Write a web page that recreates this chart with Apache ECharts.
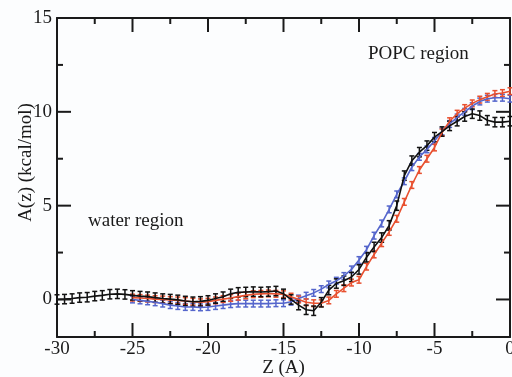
<!DOCTYPE html>
<html>
<head>
<meta charset="utf-8">
<script src="https://cdn.jsdelivr.net/npm/echarts@6/dist/echarts.min.js"></script>
<style>
  html, body {margin: 0; padding: 0; background: #fcfdfe;}
  #chart {width: 512px; height: 377px;}
</style>
</head>
<body>
<div id="chart"></div>
<script>
// Z positions (A)
const zBlack = [-30, -29.5, -29, -28.5, -28, -27.5, -27, -26.5, -26, -25.5,
  -25, -24.5, -24, -23.5, -23, -22.5, -22, -21.5, -21, -20.5,
  -20, -19.5, -19, -18.5, -18, -17.5, -17, -16.5, -16, -15.5,
  -15, -14.5, -14, -13.5, -13, -12.5, -12, -11.5, -11, -10.5,
  -10, -9.5, -9, -8.5, -8, -7.5, -7, -6.5, -6, -5.5,
  -5, -4.5, -4, -3.5, -3, -2.5, -2, -1.5, -1, -0.5, 0];
const aBlack = [0.00, 0.02, 0.05, 0.10, 0.12, 0.18, 0.22, 0.28, 0.30, 0.27,
  0.22, 0.18, 0.15, 0.10, 0.05, 0.02, -0.02, -0.08, -0.12, -0.10,
  -0.05, 0.05, 0.15, 0.30, 0.38, 0.40, 0.42, 0.40, 0.42, 0.45,
  0.30, 0.00, -0.30, -0.55, -0.60, -0.15, 0.50, 0.85, 1.00, 1.20,
  1.60, 2.25, 2.80, 3.30, 3.95, 5.00, 6.60, 7.40, 7.85, 8.20,
  8.65, 8.95, 9.25, 9.50, 9.75, 9.90, 9.80, 9.55, 9.45, 9.45, 9.50];

const zColor = [-25, -24.5, -24, -23.5, -23, -22.5, -22, -21.5, -21, -20.5,
  -20, -19.5, -19, -18.5, -18, -17.5, -17, -16.5, -16, -15.5,
  -15, -14.5, -14, -13.5, -13, -12.5, -12, -11.5, -11, -10.5,
  -10, -9.5, -9, -8.5, -8, -7.5, -7, -6.5, -6, -5.5,
  -5, -4.5, -4, -3.5, -3, -2.5, -2, -1.5, -1, -0.5, 0];
const aRed = [0.10, 0.08, 0.05, 0.02, 0.00, -0.03, -0.05, -0.08, -0.12, -0.15,
  -0.12, -0.05, 0.02, 0.08, 0.15, 0.22, 0.28, 0.30, 0.32, 0.30,
  0.28, 0.15, 0.00, -0.15, -0.20, -0.20, -0.05, 0.30, 0.60, 0.90,
  1.05, 1.75, 2.40, 3.00, 3.60, 4.30, 5.20, 6.10, 6.90, 7.50,
  8.10, 8.90, 9.50, 9.90, 10.20, 10.45, 10.65, 10.80, 10.95, 11.00, 11.10];
const aBlue = [0.00, -0.05, -0.10, -0.15, -0.22, -0.30, -0.35, -0.40, -0.40, -0.42,
  -0.40, -0.35, -0.30, -0.25, -0.22, -0.22, -0.22, -0.22, -0.22, -0.20,
  -0.20, -0.12, 0.05, 0.20, 0.35, 0.55, 0.80, 1.00, 1.25, 1.60,
  2.10, 2.65, 3.40, 4.05, 4.80, 5.60, 6.30, 7.05, 7.60, 8.00,
  8.45, 8.95, 9.35, 9.70, 10.00, 10.30, 10.55, 10.70, 10.75, 10.75, 10.70];

// error bar half-widths (kcal/mol)
const errBlack = 0.25;
const errRed = 0.18;
const errBlue = 0.18;

const xMajor = [-30, -25, -20, -15, -10, -5, 0];
const xMinor = [-27.5, -22.5, -17.5, -12.5, -7.5, -2.5];
const yMajor = [0, 5, 10, 15];
const yMinor = [2.5, 7.5, 12.5];

const xRange = [-30, 0];
const yRange = [-2, 15];

const font = '"Liberation Serif", "DejaVu Serif", serif';
const ink = '#1a1a1a';

const pairs = (zs, as) => zs.map((z, i) => [z, as[i]]);

function errorSeries(name, zs, as, err, color) {
  return {
    name: name + ' err',
    type: 'custom',
    data: zs.map((z, i) => [z, as[i] - err, as[i] + err]),
    renderItem(params, api) {
      const lo = api.coord([api.value(0), api.value(1)]);
      const hi = api.coord([api.value(0), api.value(2)]);
      const w = 2.5;
      const style = {stroke: color, lineWidth: 1.5};
      return {
        type: 'group',
        children: [
          {type: 'line', shape: {x1: lo[0], y1: lo[1], x2: hi[0], y2: hi[1]}, style},
          {type: 'line', shape: {x1: lo[0] - w, y1: lo[1], x2: lo[0] + w, y2: lo[1]}, style},
          {type: 'line', shape: {x1: hi[0] - w, y1: hi[1], x2: hi[0] + w, y2: hi[1]}, style},
        ]
      };
    },
    z: 3
  };
}

function lineSeries(name, data, color) {
  return {
    name,
    type: 'line',
    data,
    symbol: 'none',
    lineStyle: {color, width: 1.6},
    z: 4
  };
}

// inward ticks on both opposite sides of the frame, drawn as thin filled rects
function tickSeries(dim, values, len) {
  return {
    type: 'custom',
    silent: true,
    clip: false,
    z: 10,
    data: values.map(v => dim === 'x' ? [v, yRange[0]] : [xRange[0], v]),
    renderItem(params, api) {
      const cs = params.coordSys;
      const p = api.coord([api.value(0), api.value(1)]);
      const style = {fill: ink};
      const rects = dim === 'x'
        ? [{x: p[0] - 1, y: cs.y + cs.height - len, width: 2, height: len},
           {x: p[0] - 1, y: cs.y, width: 2, height: len}]
        : [{x: cs.x, y: p[1] - 1, width: len, height: 2},
           {x: cs.x + cs.width - len, y: p[1] - 1, width: len, height: 2}];
      return {
        type: 'group',
        children: rects.map(shape => ({type: 'rect', shape, style}))
      };
    }
  };
}

const frame = {show: true, onZero: false, lineStyle: {color: ink, width: 2}};
const label = {show: true, fontFamily: font, fontSize: 19, color: ink};

const chart = echarts.init(document.getElementById('chart'));
chart.setOption({
  backgroundColor: '#fcfdfe',
  animation: false,
  grid: {left: 57, right: 2, top: 18, bottom: 40, outerBoundsMode: 'none', containLabel: false},
  xAxis: [{
    type: 'value', min: xRange[0], max: xRange[1], position: 'bottom',
    name: 'Z (A)', nameLocation: 'middle', nameGap: 22, nameMoveOverlap: false,
    nameTextStyle: {fontFamily: font, fontSize: 19, color: ink},
    axisLine: frame,
    axisTick: {show: false},
    axisLabel: {...label, margin: 3, customValues: xMajor},
    splitLine: {show: false}
  }, {
    type: 'value', min: xRange[0], max: xRange[1], position: 'top',
    axisLine: frame,
    axisTick: {show: false},
    axisLabel: {show: false},
    splitLine: {show: false}
  }],
  yAxis: [{
    type: 'value', min: yRange[0], max: yRange[1], position: 'left',
    name: 'A(z) (kcal/mol)', nameLocation: 'middle', nameGap: 21, nameMoveOverlap: false,
    nameTextStyle: {fontFamily: font, fontSize: 19, color: ink, padding: [0, 0, 0, 30]},
    axisLine: frame,
    axisTick: {show: false},
    axisLabel: {...label, margin: 5, customValues: yMajor},
    splitLine: {show: false}
  }, {
    type: 'value', min: yRange[0], max: yRange[1], position: 'right',
    axisLine: frame,
    axisTick: {show: false},
    axisLabel: {show: false},
    splitLine: {show: false}
  }],
  graphic: [
    {type: 'text', left: 368, top: 45, style: {text: 'POPC region', font: '19px ' + font, fill: ink}},
    {type: 'text', left: 88, top: 212, style: {text: 'water region', font: '19px ' + font, fill: ink}}
  ],
  series: [
    tickSeries('x', xMajor, 14),
    tickSeries('x', xMinor, 6),
    tickSeries('y', yMajor, 14),
    tickSeries('y', yMinor, 6),
    errorSeries('blue', zColor, aBlue, errBlue, '#5566cc'),
    lineSeries('blue', pairs(zColor, aBlue), '#5566cc'),
    errorSeries('red', zColor, aRed, errRed, '#e8502f'),
    lineSeries('red', pairs(zColor, aRed), '#e8502f'),
    errorSeries('black', zBlack, aBlack, errBlack, '#111111'),
    lineSeries('black', pairs(zBlack, aBlack), '#111111')
  ]
});
</script>
</body>
</html>
